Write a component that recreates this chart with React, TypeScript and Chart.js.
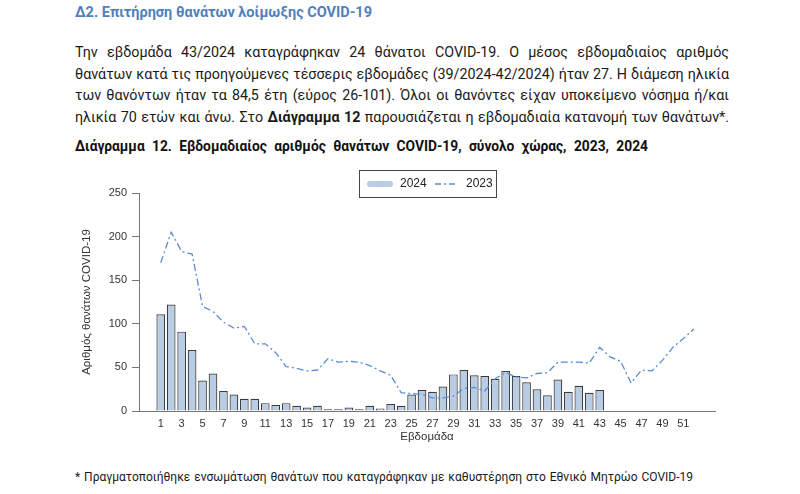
import React, { useEffect, useRef } from "react";
import { Chart, registerables } from "chart.js";
Chart.register(...registerables);

const deaths2024 = [111,122,91,70,35,43,23,19,14,14,9,7,9,6,4,6,2,2,4,2,6,3,8,6,19,24,22,28,42,47,41,40,37,46,40,33,25,18,36,22,29,21,24];
const deaths2023 = [170,205,183,180,120,114,102,95,97,77,77,67,51,49,46,47,60,56,57,56,52,46,41,21,20,19,15,15,17,26,27,23,37,44,39,38,43,44,56,56,56,55,73,62,57,32,47,46,58,73,83,94];
const xTickWeeks = [1,3,5,7,9,11,13,15,17,19,21,23,25,27,29,31,33,35,37,39,41,43,45,47,49,51];
const yTickValues = [0,50,100,150,200,250];
const seriesNames = ["2024", "2023"];
const xTitle = "Εβδομάδα";
const yTitle = "Αριθμός θανάτων COVID-19";

const BAR_FILL = "#b8cce4";
const BAR_BORDER = "#3c3c3c";
const LINE_COLOR = "#5a8bd6";
const TICK_FONT = "'Liberation Sans', Arial, sans-serif";

const overlayPlugin = {
  id: "overlay",
  afterDraw(chart: any) {
    const ctx = chart.ctx;
    ctx.save();
    ctx.strokeStyle = "#444";
    ctx.lineWidth = 1;
    ctx.strokeRect(299.5, 5.5, 137, 27);
    ctx.lineCap = "round";
    ctx.strokeStyle = BAR_FILL;
    ctx.lineWidth = 6;
    ctx.beginPath();
    ctx.moveTo(310, 19);
    ctx.lineTo(330, 19);
    ctx.stroke();
    ctx.lineCap = "butt";
    ctx.strokeStyle = LINE_COLOR;
    ctx.lineWidth = 1.3;
    ctx.setLineDash([6, 3, 2, 3]);
    ctx.beginPath();
    ctx.moveTo(375, 19);
    ctx.lineTo(397, 19);
    ctx.stroke();
    ctx.setLineDash([]);
    ctx.fillStyle = "#222";
    ctx.font = "12px " + TICK_FONT;
    ctx.textBaseline = "middle";
    ctx.textAlign = "left";
    ctx.fillText(seriesNames[0], 340, 19);
    ctx.fillText(seriesNames[1], 406, 19);
    ctx.font = "11.5px " + TICK_FONT;
    ctx.fillStyle = "#333";
    ctx.textAlign = "center";
    const ca = chart.chartArea;
    ctx.fillText(xTitle, (ca.left + ca.right) / 2, 272);
    ctx.translate(27, (ca.top + ca.bottom) / 2);
    ctx.rotate(-Math.PI / 2);
    ctx.fillText(yTitle, 0, 0);
    ctx.restore();
  },
};

function ChartBox() {
  const ref = useRef<HTMLCanvasElement | null>(null);
  useEffect(() => {
    if (!ref.current) return;
    const chart = new Chart(ref.current, {
      type: "bar",
      data: {
        datasets: [
          {
            type: "line",
            label: seriesNames[1],
            data: deaths2023.map((v, i) => ({ x: i + 1, y: v })),
            borderColor: LINE_COLOR,
            borderWidth: 1.3,
            borderDash: [7, 3, 2, 3],
            pointRadius: 0,
            tension: 0,
            fill: false,
            order: 0,
          } as any,
          {
            type: "bar",
            label: seriesNames[0],
            data: deaths2024.map((v, i) => ({ x: i + 1, y: v })),
            backgroundColor: BAR_FILL,
            borderColor: BAR_BORDER,
            borderWidth: 1.2,
            borderSkipped: "bottom",
            barPercentage: 0.83,
            categoryPercentage: 1,
            order: 1,
          } as any,
        ],
      },
      options: {
        animation: false,
        responsive: false,
        layout: { padding: { top: 28, right: 25, left: 0, bottom: 0 } },
        plugins: { legend: { display: false }, tooltip: { enabled: false } },
        scales: {
          x: {
            type: "linear",
            min: -1.08,
            max: 54.03,
            offset: false,
            grid: { display: true, drawOnChartArea: false, drawTicks: false, offset: false },
            border: { display: true, color: "#777", width: 1 },
            ticks: {
              autoSkip: false,
              maxRotation: 0,
              padding: 6,
              color: "#333",
              font: { family: TICK_FONT, size: 11 },
            },
            afterBuildTicks: (scale: any) => {
              scale.ticks = xTickWeeks.map((v) => ({ value: v }));
            },
            afterFit: (scale: any) => {
              scale.height = 39;
            },
          } as any,
          y: {
            min: 0,
            max: 250,
            grid: { display: true, drawOnChartArea: false, drawTicks: true, tickLength: 7, color: "#777" },
            border: { display: true, color: "#777", width: 1 },
            ticks: {
              padding: 5,
              color: "#333",
              font: { family: TICK_FONT, size: 11 },
            },
            afterBuildTicks: (scale: any) => {
              scale.ticks = yTickValues.map((v) => ({ value: v }));
            },
            afterFit: (scale: any) => {
              scale.width = 79;
            },
          } as any,
        },
      },
      plugins: [overlayPlugin],
    });
    return () => chart.destroy();
  }, []);
  return (
    <canvas
      ref={ref}
      width={680}
      height={285}
      style={{ position: "absolute", left: 60, top: 165, width: 680, height: 285 }}
    />
  );
}

const lineStyle: React.CSSProperties = {
  position: "absolute",
  left: 75,
  width: 654,
  whiteSpace: "nowrap",
  textAlign: "justify",
  textAlignLast: "justify" as any,
  fontSize: 14.3,
  lineHeight: "22px",
  color: "#1a1a1a",
};

export default function App() {
  return (
    <div
      style={{
        position: "absolute",
        left: 0,
        top: 0,
        width: 800,
        height: 494,
        background: "#fff",
        fontFamily: "Roboto, 'Noto Sans', sans-serif",
        overflow: "hidden",
      }}
    >
      <div
        style={{
          position: "absolute",
          left: 75,
          top: 3,
          width: 295,
          whiteSpace: "nowrap",
          textAlignLast: "justify" as any,
          fontSize: 14.5,
          lineHeight: "20px",
          fontWeight: 700,
          color: "#4f81bd",
        }}
      >
        Δ2. Επιτήρηση θανάτων λοίμωξης COVID-19
      </div>
      <div style={{ ...lineStyle, top: 41 }}>
        Την εβδομάδα 43/2024 καταγράφηκαν 24 θάνατοι COVID-19. Ο μέσος εβδομαδιαίος αριθμός
      </div>
      <div style={{ ...lineStyle, top: 62.5 }}>
        θανάτων κατά τις προηγούμενες τέσσερις εβδομάδες (39/2024-42/2024) ήταν 27. Η διάμεση ηλικία
      </div>
      <div style={{ ...lineStyle, top: 84 }}>
        των θανόντων ήταν τα 84,5 έτη (εύρος 26-101). Όλοι οι θανόντες είχαν υποκείμενο νόσημα ή/και
      </div>
      <div style={{ ...lineStyle, top: 105.5 }}>
        ηλικία 70 ετών και άνω. Στο <b>Διάγραμμα 12</b> παρουσιάζεται η εβδομαδιαία κατανομή των θανάτων*.
      </div>
      <div
        style={{
          position: "absolute",
          left: 75,
          top: 135,
          width: 573,
          whiteSpace: "nowrap",
          textAlignLast: "justify" as any,
          fontSize: 13.8,
          lineHeight: "22px",
          fontWeight: 700,
          color: "#111",
        }}
      >
        Διάγραμμα 12. Εβδομαδιαίος αριθμός θανάτων COVID-19, σύνολο χώρας, 2023, 2024
      </div>
      <ChartBox />
      <div
        style={{
          position: "absolute",
          left: 75,
          top: 467,
          width: 618,
          whiteSpace: "nowrap",
          textAlignLast: "justify" as any,
          fontSize: 12,
          lineHeight: "20px",
          color: "#1a1a1a",
        }}
      >
        * Πραγματοποιήθηκε ενσωμάτωση θανάτων που καταγράφηκαν με καθυστέρηση στο Εθνικό Μητρώο COVID-19
      </div>
    </div>
  );
}
